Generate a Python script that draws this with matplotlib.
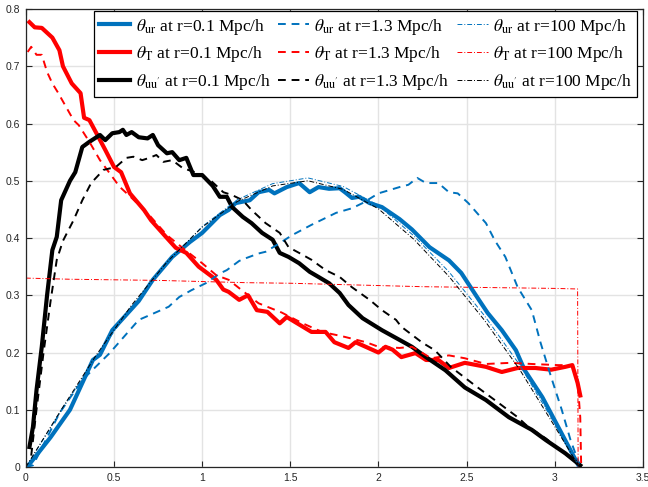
import matplotlib

matplotlib.use("Agg")
import matplotlib.pyplot as plt
from matplotlib.font_manager import FontProperties

# --- data ---
ur01_x = [0, 0.02, 0.14, 0.25, 0.38, 0.42, 0.49, 0.64, 0.72, 0.83, 0.93, 1.0, 1.10, 1.15, 1.19, 1.27, 1.32,
          1.38, 1.41, 1.48, 1.55, 1.61, 1.66, 1.72, 1.78, 1.81, 1.85, 1.89, 1.95, 2.02, 2.12, 2.19, 2.29, 2.40,
          2.47, 2.57, 2.62, 2.70, 2.78, 2.83, 2.93, 3.02, 3.14]
ur01_y = [0, 0.005, 0.052, 0.10, 0.187, 0.196, 0.239, 0.29, 0.327, 0.367, 0.393, 0.409, 0.44, 0.449, 0.461,
          0.466, 0.48, 0.484, 0.478, 0.489, 0.496, 0.48, 0.489, 0.486, 0.487, 0.48, 0.47, 0.472, 0.461, 0.454,
          0.433, 0.415, 0.384, 0.361, 0.339, 0.292, 0.269, 0.239, 0.204, 0.169, 0.122, 0.07, 0.0]

ur13_x = [0, 0.04, 0.19, 0.32, 0.475, 0.64, 0.70, 0.81, 0.87, 0.94, 1.02, 1.10, 1.14, 1.21, 1.25, 1.32, 1.36,
          1.44, 1.51, 1.62, 1.76, 1.85, 1.91, 2.0, 2.12, 2.17, 2.22, 2.27, 2.34, 2.40, 2.45, 2.51, 2.61, 2.66,
          2.72, 2.79, 2.87, 2.92, 2.98, 3.04, 3.09, 3.14]
ur13_y = [0, 0.003, 0.094, 0.152, 0.199, 0.257, 0.265, 0.28, 0.297, 0.309, 0.321, 0.338, 0.344, 0.36, 0.365,
          0.373, 0.376, 0.391, 0.405, 0.423, 0.444, 0.452, 0.461, 0.478, 0.489, 0.493, 0.505, 0.496, 0.496,
          0.48, 0.478, 0.461, 0.426, 0.396, 0.367, 0.314, 0.274, 0.217, 0.157, 0.1, 0.047, 0.005]

ur100_x = [0, 0.2, 0.4, 0.6, 0.8, 1.0, 1.2, 1.4, 1.6, 1.8, 2.0, 2.2, 2.4, 2.6, 2.8, 3.0, 3.14]
ur100_y = [0, 0.098, 0.193, 0.28, 0.357, 0.42, 0.467, 0.495, 0.505, 0.49, 0.457, 0.404, 0.341, 0.265,
           0.179, 0.076, 0.0]

t01_x = [0.02, 0.05, 0.09, 0.15, 0.19, 0.21, 0.26, 0.31, 0.33, 0.36, 0.40, 0.45, 0.50, 0.54, 0.59, 0.67, 0.71,
         0.80, 0.85, 0.91, 0.98, 1.08, 1.12, 1.15, 1.21, 1.26, 1.31, 1.37, 1.44, 1.48, 1.62, 1.70, 1.75, 1.83,
         1.87, 2.0, 2.04, 2.08, 2.13, 2.21, 2.27, 2.34, 2.40, 2.49, 2.61, 2.70, 2.79, 2.89, 2.98, 3.06, 3.10,
         3.13, 3.145]
t01_y = [0.777, 0.768, 0.767, 0.75, 0.728, 0.70, 0.67, 0.653, 0.61, 0.606, 0.583, 0.554, 0.524, 0.515, 0.478,
         0.449, 0.431, 0.40, 0.383, 0.374, 0.35, 0.327, 0.31, 0.306, 0.292, 0.30, 0.274, 0.271, 0.251, 0.262,
         0.236, 0.236, 0.218, 0.208, 0.218, 0.20, 0.21, 0.205, 0.192, 0.199, 0.187, 0.187, 0.173, 0.182, 0.175,
         0.166, 0.173, 0.173, 0.17, 0.175, 0.178, 0.147, 0.125]

t13_x = [0.01, 0.03, 0.06, 0.09, 0.12, 0.15, 0.18, 0.27, 0.30, 0.36, 0.42, 0.49, 0.53, 0.60, 0.70, 0.80, 0.90,
         1.0, 1.08, 1.15, 1.22, 1.32, 1.45, 1.57, 1.68, 1.80, 1.93, 2.0, 2.12, 2.19, 2.30, 2.40, 2.49, 2.61,
         2.75, 2.87, 3.02, 3.10, 3.13, 3.145, 3.15]
t13_y = [0.725, 0.734, 0.72, 0.72, 0.69, 0.67, 0.655, 0.606, 0.597, 0.568, 0.536, 0.507, 0.49, 0.47, 0.44,
         0.405, 0.38, 0.356, 0.335, 0.327, 0.31, 0.286, 0.27, 0.251, 0.236, 0.228, 0.218, 0.21, 0.208, 0.21,
         0.19, 0.195, 0.19, 0.18, 0.182, 0.18, 0.178, 0.178, 0.15, 0.087, 0.007]

t100_x = [0.0, 0.25, 0.5, 0.75, 1.0, 1.25, 1.5, 1.75, 2.0, 2.25, 2.5, 2.75, 3.0, 3.13, 3.133]
t100_y = [0.330, 0.328, 0.327, 0.326, 0.324, 0.322, 0.321, 0.319, 0.317, 0.315, 0.314, 0.313, 0.312,
          0.311, 0.0]

uu01_x = [0.02, 0.04, 0.06, 0.09, 0.12, 0.15, 0.175, 0.20, 0.25, 0.28, 0.32, 0.36, 0.42, 0.45, 0.49, 0.53,
          0.55, 0.57, 0.60, 0.64, 0.69, 0.72, 0.75, 0.80, 0.83, 0.87, 0.91, 0.95, 1.0, 1.06, 1.10, 1.14, 1.17,
          1.23, 1.28, 1.34, 1.40, 1.44, 1.49, 1.55, 1.61, 1.66, 1.72, 1.78, 1.83, 1.91, 2.02, 2.12, 2.19, 2.27,
          2.38, 2.49, 2.61, 2.74, 2.87, 2.95, 3.06, 3.145]
uu01_y = [0.035, 0.07, 0.134, 0.21, 0.30, 0.379, 0.402, 0.466, 0.50, 0.515, 0.559, 0.568, 0.58, 0.571, 0.583,
          0.585, 0.589, 0.58, 0.585, 0.576, 0.574, 0.58, 0.562, 0.548, 0.55, 0.536, 0.54, 0.51, 0.51, 0.491,
          0.472, 0.472, 0.454, 0.437, 0.426, 0.409, 0.397, 0.374, 0.367, 0.356, 0.341, 0.332, 0.321, 0.304,
          0.283, 0.26, 0.239, 0.222, 0.21, 0.192, 0.169, 0.139, 0.117, 0.087, 0.065, 0.047, 0.024, 0.003]

uu13_x = [0.03, 0.06, 0.10, 0.14, 0.175, 0.21, 0.27, 0.32, 0.37, 0.44, 0.51, 0.57, 0.61, 0.66, 0.70, 0.74,
          0.78, 0.83, 0.89, 0.97, 1.05, 1.12, 1.17, 1.23, 1.28, 1.36, 1.44, 1.49, 1.55, 1.62, 1.70, 1.78, 1.85,
          1.95, 2.02, 2.10, 2.13, 2.25, 2.32, 2.41, 2.55, 2.66, 2.79, 2.85, 2.95, 3.05, 3.145]
uu13_y = [0.02, 0.10, 0.20, 0.29, 0.362, 0.395, 0.431, 0.466, 0.496, 0.519, 0.524, 0.54, 0.542, 0.536, 0.54,
          0.545, 0.533, 0.536, 0.522, 0.514, 0.50, 0.48, 0.475, 0.466, 0.449, 0.426, 0.409, 0.384, 0.374,
          0.362, 0.344, 0.332, 0.314, 0.292, 0.274, 0.257, 0.245, 0.217, 0.204, 0.175, 0.142, 0.117, 0.087,
          0.07, 0.05, 0.025, 0.003]

uu100_x = [0, 0.2, 0.4, 0.6, 0.8, 1.0, 1.2, 1.4, 1.6, 1.8, 2.0, 2.2, 2.4, 2.6, 2.8, 3.0, 3.14]
uu100_y = [0, 0.1, 0.196, 0.283, 0.358, 0.419, 0.464, 0.491, 0.500, 0.485, 0.451, 0.398, 0.333, 0.257,
           0.171, 0.071, 0.0]

x_ticks = [0, 0.5, 1, 1.5, 2, 2.5, 3, 3.5]
x_tick_labels = ["0", "0.5", "1", "1.5", "2", "2.5", "3", "3.5"]
y_ticks = [0, 0.1, 0.2, 0.3, 0.4, 0.5, 0.6, 0.7, 0.8]
y_tick_labels = ["0", "0.1", "0.2", "0.3", "0.4", "0.5", "0.6", "0.7", "0.8"]

BLUE = "#0072BD"
RED = "#FF0000"
BLACK = "#000000"

plt.rcParams["mathtext.fontset"] = "stix"
plt.rcParams["font.family"] = ["Liberation Sans", "DejaVu Sans"]

fig = plt.figure(figsize=(6.48, 4.87), dpi=100)
ax = fig.add_axes([0.040, 0.041, 0.952, 0.9405])

dash = (0, (4, 3))
dashdot = (0, (5, 2, 1, 2))

series = [
    (ur01_x, ur01_y, BLUE, "-", 3.0, r"$\theta_{\mathrm{ur}}$ at r=0.1 Mpc/h"),
    (t01_x, t01_y, RED, "-", 3.0, r"$\theta_{\mathrm{T}}$ at r=0.1 Mpc/h"),
    (uu01_x, uu01_y, BLACK, "-", 3.0, r"$\theta_{\mathrm{uu'}}$ at r=0.1 Mpc/h"),
    (ur13_x, ur13_y, BLUE, dash, 1.4, r"$\theta_{\mathrm{ur}}$ at r=1.3 Mpc/h"),
    (t13_x, t13_y, RED, dash, 1.4, r"$\theta_{\mathrm{T}}$ at r=1.3 Mpc/h"),
    (uu13_x, uu13_y, BLACK, dash, 1.4, r"$\theta_{\mathrm{uu'}}$ at r=1.3 Mpc/h"),
    (ur100_x, ur100_y, BLUE, dashdot, 0.7, r"$\theta_{\mathrm{ur}}$ at r=100 Mpc/h"),
    (t100_x, t100_y, RED, dashdot, 0.7, r"$\theta_{\mathrm{T}}$ at r=100 Mpc/h"),
    (uu100_x, uu100_y, BLACK, dashdot, 0.7, r"$\theta_{\mathrm{uu'}}$ at r=100 Mpc/h"),
]
for xs, ys, color, ls, lw, label in series:
    ax.plot(xs, ys, color=color, linestyle=ls, linewidth=lw, label=label)

ax.set_xlim(0, 3.5)
ax.set_ylim(0, 0.8)
ax.set_xticks(x_ticks)
ax.set_xticklabels(x_tick_labels)
ax.set_yticks(y_ticks)
ax.set_yticklabels(y_tick_labels)
ax.grid(True, color="#e3e3e3", linewidth=1.0)
ax.set_axisbelow(True)
ax.tick_params(direction="in", top=True, right=True, length=4, width=0.8,
               labelsize=7.5, labelcolor="#262626", color="#262626", pad=4)
for spine in ax.spines.values():
    spine.set_color("#262626")
    spine.set_linewidth(0.9)

legend_font = FontProperties(family="Liberation Serif", size=12.5)
leg = ax.legend(loc="upper right", bbox_to_anchor=(0.991, 0.995), ncol=3, prop=legend_font,
                frameon=True, fancybox=False, edgecolor="black", framealpha=1.0,
                borderaxespad=0, handlelength=1.8, handletextpad=0.3, columnspacing=0.45,
                labelspacing=0.45, borderpad=0.3)
leg.get_frame().set_linewidth(0.9)

fig.savefig("out.png", dpi=100)
